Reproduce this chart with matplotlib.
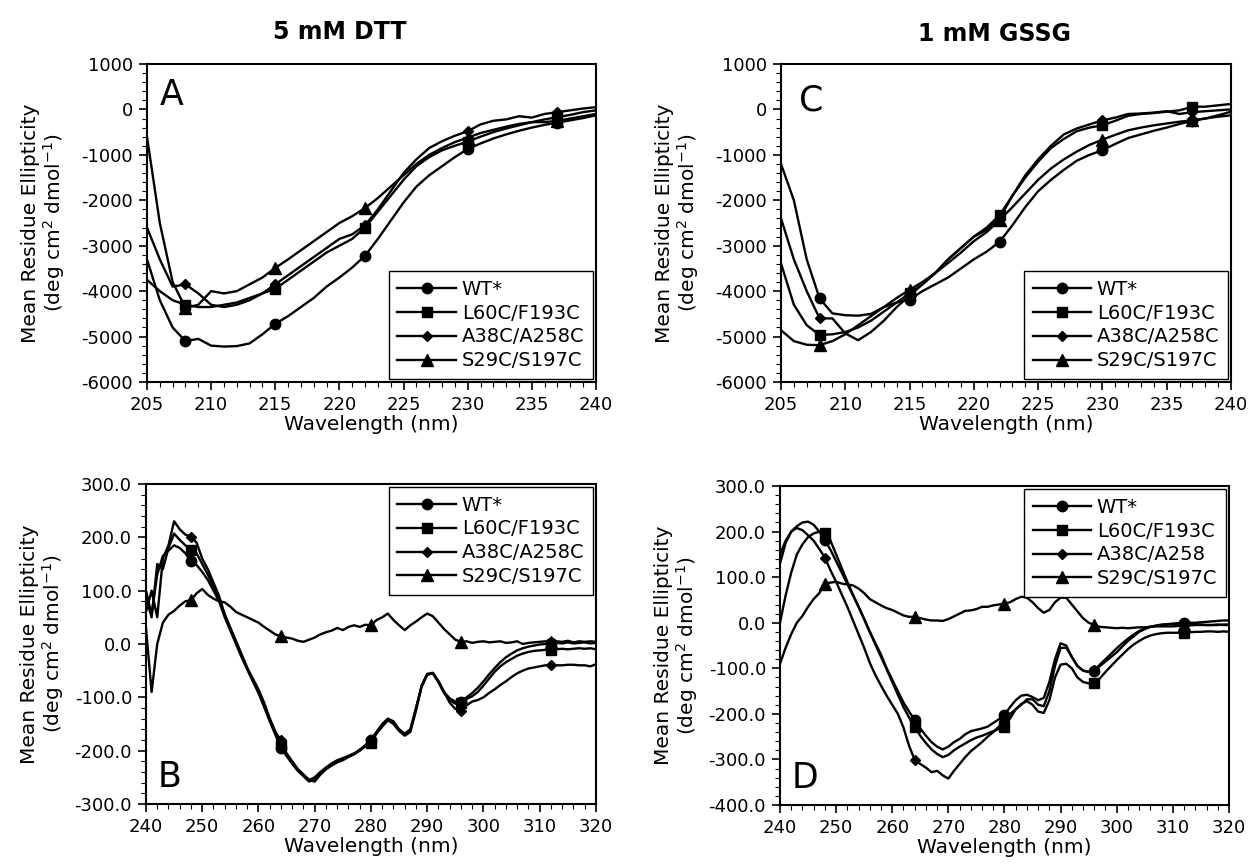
import numpy as np
import matplotlib
matplotlib.use("Agg")
import matplotlib.pyplot as plt
from matplotlib.ticker import MultipleLocator, FormatStrFormatter

plt.rcParams['font.family'] = ['DejaVu Sans']
plt.rcParams['axes.unicode_minus'] = False

labels = ["WT*", "L60C/F193C", "A38C/A258C", "S29C/S197C"]
labels_d = ["WT*", "L60C/F193C", "A38C/A258", "S29C/S197C"]
markers = ["o", "s", "D", "^"]
msizes = [7.5, 7.5, 5.5, 8]

# far-UV, 205-240 nm in 1 nm steps
wl_top = np.arange(205, 241)
mark_top = [208, 215, 222, 230, 237]

a_wt = [-3300, -4200, -4800, -5100, -5050, -5200, -5220, -5210, -5150, -4950, -4720, -4550,
        -4350, -4150, -3900, -3700, -3480, -3220, -2850, -2450, -2050, -1700, -1450, -1250,
        -1050, -870, -750, -640, -550, -470, -400, -340, -290, -240, -190, -130]
a_l60 = [-3750, -4000, -4200, -4300, -4350, -4350, -4300, -4250, -4150, -4050, -3950, -3750,
         -3550, -3350, -3150, -3000, -2850, -2600, -2250, -1900, -1550, -1250, -1050, -900,
         -800, -710, -600, -500, -420, -350, -280, -220, -170, -120, -60, -20]
a_a38 = [-2600, -3300, -3900, -3850, -4050, -4300, -4350, -4300, -4200, -4050, -3850, -3650,
         -3450, -3250, -3050, -2850, -2750, -2550, -2200, -1800, -1400, -1100, -850, -700,
         -580, -480, -330, -250, -220, -150, -180, -100, -60, -20, 20, 50]
a_s29 = [-600, -2500, -3800, -4370, -4300, -4000, -4050, -4000, -3850, -3700, -3490, -3300,
         -3100, -2900, -2700, -2500, -2350, -2170, -1950, -1700, -1450, -1200, -1000, -850,
         -720, -620, -520, -450, -380, -320, -280, -280, -250, -200, -150, -100]

c_wt = [-1200, -2000, -3300, -4160, -4490, -4530, -4540, -4500, -4350, -4250, -4185, -4000,
        -3850, -3700, -3500, -3300, -3130, -2915, -2550, -2150, -1800, -1550, -1330, -1130,
        -1000, -900, -760, -630, -550, -470, -400, -320, -250, -200, -160, -130]
c_l60 = [-3390, -4300, -4750, -4965, -4950, -4900, -4800, -4650, -4450, -4250, -4050, -3850,
         -3600, -3300, -3050, -2800, -2600, -2330, -1900, -1500, -1150, -850, -650, -480,
         -400, -350, -250, -140, -100, -80, -50, -20, 60, 60, 90, 120]
c_a38 = [-2400, -3300, -4000, -4600, -4600, -4930, -5080, -4900, -4650, -4350, -4100, -3850,
         -3600, -3300, -3050, -2800, -2650, -2400, -1900, -1450, -1100, -800, -550, -420,
         -330, -240, -180, -100, -90, -70, -40, -100, -60, -40, -20, 0]
c_s29 = [-4860, -5100, -5180, -5190, -5100, -4950, -4750, -4550, -4350, -4150, -3970, -3800,
         -3600, -3380, -3150, -2900, -2700, -2440, -2150, -1850, -1550, -1300, -1100, -930,
         -780, -665, -560, -460, -400, -350, -310, -270, -240, -200, -130, -50]

# near-UV, 240-320 nm in 1 nm steps
wl_bot = np.arange(240, 321)
mark_bot = [248, 264, 280, 296, 312]

b_wt = [100, 55, 130, 165, 175, 185, 180, 170, 155, 148, 135, 120, 100, 80, 50, 25, 0, -25,
        -48, -70, -92, -118, -145, -170, -195, -210, -225, -238, -248, -258, -252, -242, -232,
        -224, -218, -214, -210, -206, -198, -190, -180, -165, -152, -142, -148, -162, -170,
        -162, -122, -78, -56, -54, -70, -90, -102, -108, -108, -100, -92, -82, -70, -57, -45,
        -34, -25, -18, -12, -8, -5, -3, -1, 0, 1, 2, 1, 3, 1, 2, 3, 1, 2]
b_l60 = [88, 50, 150, 140, 180, 207, 195, 185, 176, 170, 150, 130, 108, 85, 55, 30, 5, -20,
         -45, -68, -90, -115, -140, -165, -190, -208, -222, -235, -245, -255, -258, -245, -235,
         -228, -222, -218, -212, -207, -200, -192, -185, -168, -155, -143, -150, -163, -172,
         -165, -125, -80, -57, -55, -72, -92, -105, -112, -110, -103, -98, -90, -78, -65, -52,
         -42, -34, -28, -22, -18, -15, -13, -12, -11, -12, -10, -9, -10, -9, -8, -9, -8, -10]
b_a38 = [60, 100, 50, 160, 185, 230, 215, 205, 201, 190, 160, 140, 115, 90, 55, 30, 5, -20,
         -45, -65, -85, -110, -140, -165, -180, -205, -220, -235, -245, -255, -250, -240, -232,
         -225, -220, -215, -210, -205, -200, -190, -180, -165, -150, -140, -145, -160, -168,
         -160, -120, -80, -58, -55, -70, -90, -110, -122, -125, -115, -108, -105, -100, -92,
         -85, -77, -70, -62, -55, -50, -46, -44, -42, -40, -40, -40, -40, -39, -39, -40, -40,
         -42, -38]
b_s29 = [30, -90, 0, 40, 55, 62, 72, 80, 82, 95, 103, 92, 85, 80, 78, 70, 60, 55, 50, 45, 40,
         32, 25, 18, 14, 12, 10, 6, 4, 8, 12, 18, 22, 25, 30, 26, 32, 35, 32, 36, 35, 45, 50,
         57, 45, 35, 26, 35, 42, 50, 57, 52, 40, 28, 18, 8, 4, 5, 2, 4, 5, 3, 4, 5, 2, 3, 5,
         0, 2, 3, 4, 5, 3, 5, 4, 6, 3, 5, 4, 5, 4]

d_wt = [150, 180, 200, 212, 220, 222, 215, 200, 181, 160, 135, 110, 85, 60, 35, 8, -20, -45,
        -70, -100, -125, -150, -175, -195, -213, -232, -248, -262, -272, -278, -272, -262,
        -255, -245, -238, -235, -232, -228, -220, -212, -202, -185, -170, -160, -158, -163,
        -170, -165, -130, -80, -45, -50, -75, -95, -105, -108, -107, -95, -85, -75, -65, -52,
        -40, -30, -20, -14, -9, -6, -4, -3, -2, -1, -1, 0, 0, 1, 2, 3, 4, 5, 5]
d_l60 = [0, 60, 110, 150, 172, 188, 196, 200, 198, 180, 150, 120, 90, 62, 35, 8, -20, -48,
         -75, -102, -130, -158, -185, -208, -228, -248, -264, -278, -288, -295, -290, -280,
         -272, -265, -258, -252, -248, -243, -238, -233, -228, -210, -190, -178, -172, -180,
         -195, -198, -170, -120, -92, -90, -100, -120, -130, -133, -133, -122, -108, -95, -82,
         -70, -58, -48, -40, -33, -28, -25, -23, -22, -22, -22, -23, -21, -20, -20, -19, -19,
         -20, -19, -20]
d_a38 = [130, 175, 200, 208, 203, 192, 180, 162, 143, 115, 90, 62, 35, 5, -25, -55, -88, -115,
         -138, -160, -180, -200, -230, -270, -301, -310, -318, -328, -325, -335, -342, -325,
         -310, -295, -282, -272, -262, -250, -240, -228, -215, -200, -190, -180, -168, -168,
         -180, -183, -150, -95, -55, -55, -75, -95, -105, -108, -104, -92, -80, -68, -56, -45,
         -35, -26, -18, -12, -9, -7, -5, -4, -3, -2, 0, -2, -3, -4, -5, -5, -4, -5, -5]
d_s29 = [-90, -55, -25, 0, 15, 35, 52, 65, 86, 88, 90, 86, 84, 82, 75, 65, 52, 45, 38, 32, 28,
         22, 16, 13, 13, 10, 7, 5, 5, 4, 8, 14, 20, 26, 27, 30, 35, 35, 38, 40, 42, 45, 52, 57,
         55, 45, 32, 22, 28, 45, 55, 55, 40, 25, 10, 0, -5, -9, -10, -11, -12, -11, -12, -11,
         -10, -10, -9, -8, -8, -8, -8, -7, -6, -6, -5, -5, -5, -5, -5, -4, -4]

fig = plt.figure(figsize=(12.52, 8.67), dpi=100)

panels = [
    # rect, x, marks, series, letter, letter pos, legend loc, ylim, ymaj, ymin, xlim, xmaj, xmin, fmt, labels
    ([0.1174, 0.5594, 0.3586, 0.3668], wl_top, mark_top, [a_wt, a_l60, a_a38, a_s29], "A",
     (0.028, 0.955, "top"), "lower right", (-6000, 1000), 1000, 200, (205, 240), 5, 1, "%d", labels),
    ([0.6238, 0.5594, 0.3594, 0.3668], wl_top, mark_top, [c_wt, c_l60, c_a38, c_s29], "C",
     (0.04, 0.94, "top"), "lower right", (-6000, 1000), 1000, 200, (205, 240), 5, 1, "%d", labels),
    ([0.1166, 0.0727, 0.3594, 0.3691], wl_bot, mark_bot, [b_wt, b_l60, b_a38, b_s29], "B",
     (0.025, 0.03, "bottom"), "upper right", (-300, 300), 100, 20, (240, 320), 10, 2, "%.1f", labels),
    ([0.6230, 0.0715, 0.3586, 0.3679], wl_bot, mark_bot, [d_wt, d_l60, d_a38, d_s29], "D",
     (0.027, 0.03, "bottom"), "upper right", (-400, 300), 100, 20, (240, 320), 10, 2, "%.1f", labels_d),
]

for (rect, x, marks, series, letter, lpos, lloc, ylim, ymaj, ymin,
     xlim, xmaj, xmin, fmt, labs) in panels:
    ax = fig.add_axes(rect)
    idx = [int(np.where(x == m)[0][0]) for m in marks]
    for y, lab, mk, ms in zip(series, labs, markers, msizes):
        ax.plot(x, y, color="black", lw=1.7, marker=mk, ms=ms, markevery=idx,
                mfc="black", mec="black", label=lab)
    ax.set_xlim(*xlim)
    ax.set_ylim(*ylim)
    ax.xaxis.set_major_locator(MultipleLocator(xmaj))
    ax.xaxis.set_minor_locator(MultipleLocator(xmin))
    ax.yaxis.set_major_locator(MultipleLocator(ymaj))
    ax.yaxis.set_minor_locator(MultipleLocator(ymin))
    ax.yaxis.set_major_formatter(FormatStrFormatter(fmt))
    ax.tick_params(which="major", direction="out", length=6, width=1.2, labelsize=13, pad=4)
    ax.tick_params(which="minor", direction="out", length=3.5, width=0.8)
    for sp in ax.spines.values():
        sp.set_linewidth(1.5)
    ax.set_xlabel("Wavelength (nm)", fontsize=14.5, labelpad=1)
    ax.set_ylabel("Mean Residue Ellipticity\n(deg cm$^2$ dmol$^{-1}$)", fontsize=14.5,
                  linespacing=1.05)
    ax.yaxis.set_label_coords(-0.178, 0.5)
    ax.text(lpos[0], lpos[1], letter, transform=ax.transAxes, fontsize=25,
            va=lpos[2], ha="left")
    leg = ax.legend(loc=lloc, fontsize=14, frameon=True, fancybox=False, borderaxespad=0.15,
                    handlelength=3.0, handletextpad=0.3, labelspacing=0.25, borderpad=0.45,
                    numpoints=1)
    leg.get_frame().set_edgecolor("black")
    leg.get_frame().set_linewidth(1.0)
    leg.get_frame().set_alpha(1)

fig.text(340 / 1252, 1 - 32 / 867, "5 mM DTT", fontsize=17, fontweight="bold",
         ha="center", va="center")
fig.text(995 / 1252, 1 - 34 / 867, "1 mM GSSG", fontsize=17, fontweight="bold",
         ha="center", va="center")

fig.savefig("out.png", dpi=100)
